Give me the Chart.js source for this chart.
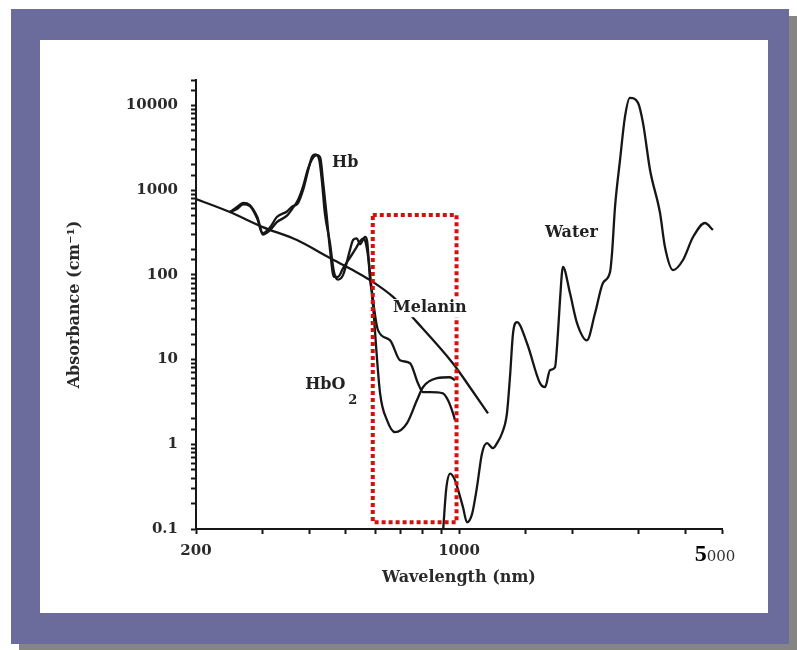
<!DOCTYPE html>
<html>
<head>
<meta charset="utf-8">
<title>Absorption spectra</title>
<script src="https://cdn.jsdelivr.net/npm/chart.js@4/dist/chart.umd.min.js"></script>
<style>
  body { margin: 0; background: #fff; }
  .frame {
    position: absolute; left: 11px; top: 9px; width: 778px; height: 635px;
    background: #6b6b9c; box-shadow: 8px 7px 0 #858585;
  }
  .panel {
    position: absolute; left: 40px; top: 40px; width: 728px; height: 573px;
    background: #fff;
  }
</style>
</head>
<body>
<div class="frame"></div>
<div class="panel"><canvas id="grafico" width="728" height="573"></canvas></div>
<script>
// wavelengths in nm, absorbance in cm-1
const melaninWl  = [200, 246, 301, 371, 454, 522, 580, 668, 773, 963, 1069, 1194];
const melaninAbs = [787, 552, 367, 258, 158, 114, 87, 55, 27.7, 9.06, 4.72, 2.32];

const hbo2Wl  = [246, 257, 267, 278, 291, 301, 315, 328, 349, 360, 373, 385, 397, 407, 415, 425, 432, 440, 454,
                 465, 477, 492, 513, 523, 535, 546, 563, 570, 580, 587, 617, 644, 676, 727, 773, 802, 874, 946, 976];
const hbo2Abs = [552, 633, 706, 668, 482, 312, 367, 482, 560, 640, 700, 1000, 1700, 2500, 2650, 2300, 1300, 537, 238,
                 110, 88, 100, 196, 258, 270, 230, 280, 250, 90, 60, 4.0, 1.92, 1.39, 1.77, 3.31, 4.72, 6.03, 6.19, 5.71];

const hbWl  = [246, 257, 267, 278, 291, 301, 315, 328, 349, 360, 373, 385, 397, 410, 420, 428, 435, 445, 454,
               465, 477, 492, 513, 530, 546, 557, 565, 575, 583, 591, 609, 656, 697, 741, 778, 802, 837, 906, 935, 964, 976];
const hbAbs = [552, 600, 680, 650, 460, 300, 340, 420, 500, 600, 760, 1100, 1800, 2450, 2600, 2400, 1300, 500, 200,
               95, 95, 120, 160, 200, 250, 270, 240, 150, 85, 50, 22.3, 16.9, 9.84, 9.06, 5.26, 4.12, 4.12, 4.0, 3.31, 2.32, 1.92];

const waterWl  = [905, 925, 948, 975, 990, 1025, 1050, 1083, 1116, 1151, 1187, 1231, 1262, 1301, 1341, 1366, 1392, 1426,
                  1516, 1642, 1693, 1745, 1799, 1832, 1855, 1889, 1972, 2059, 2188, 2298, 2413, 2520, 2551, 2598, 2679,
                  2761, 2846, 2991, 3083, 3219, 3422, 3527, 3705, 3938, 4188, 4505, 4731];
const waterAbs = [0.08, 0.3, 0.45, 0.38, 0.31, 0.18, 0.12, 0.15, 0.31, 0.78, 1.03, 0.9, 1.03, 1.35, 2.32, 6.2, 20.5, 27.7,
                  15.6, 5.26, 4.72, 7.5, 8.1, 20.5, 50, 124, 61, 27, 16.9, 35, 80, 108, 181, 633, 2275,
                  7330, 12300, 10740, 6230, 1733, 537, 213, 114, 150, 280, 410, 339];

const xTickLabels = [200, 1000, 5000];
const yTickLabels = [0.1, 1, 10, 100, 1000, 10000];

// curve names, anchored at [wavelength, absorbance]
const notes = [
  { text: 'Hb', at: [460, 2100] },
  { text: 'Melanin', at: [668, 40.5], clear: true },
  { text: 'Water', at: [1693, 312] },
  { text: 'HbO', at: [390, 4.98], sub: '2' }
];
// highlighted window (dotted red box)
const windowWl  = [590, 985];
const windowAbs = [0.12, 510];

const tinta = '#161616';
const serif = "'DejaVu Serif', serif";

function puntos(xs, ys) {
  return xs.map((x, i) => ({ x: x, y: ys[i] }));
}

function curva(label, xs, ys) {
  return {
    label: label,
    data: puntos(xs, ys),
    borderColor: tinta,
    borderWidth: 2.3,
    pointRadius: 0,
    fill: false,
    cubicInterpolationMode: 'monotone'
  };
}

const anotaciones = {
  id: 'anotaciones',
  afterDatasetsDraw(chart) {
    const { ctx, scales: { x, y }, chartArea } = chart;
    ctx.save();

    // dotted window
    const x0 = x.getPixelForValue(windowWl[0]), x1 = x.getPixelForValue(windowWl[1]);
    const y0 = y.getPixelForValue(windowAbs[1]), y1 = y.getPixelForValue(windowAbs[0]);
    ctx.strokeStyle = '#d40f0f';
    ctx.lineWidth = 4;
    ctx.setLineDash([4, 3]);
    ctx.strokeRect(x0, y0, x1 - x0, y1 - y0);
    ctx.setLineDash([]);

    // curve names
    ctx.textBaseline = 'middle';
    ctx.textAlign = 'left';
    notes.forEach(n => {
      const px = x.getPixelForValue(n.at[0]);
      const py = y.getPixelForValue(n.at[1]);
      ctx.font = 'bold 16px ' + serif;
      const w = ctx.measureText(n.text).width;
      if (n.clear) {
        ctx.fillStyle = '#fff';
        ctx.fillRect(px - 3, py - 9, w + 6, 18);
      }
      ctx.fillStyle = '#222';
      ctx.fillText(n.text, px, py);
      if (n.sub) {
        ctx.font = 'bold 13px ' + serif;
        ctx.fillText(n.sub, px + w + 3, py + 15);
      }
    });

    // last wavelength label, with its bigger first digit
    const lx = x.getPixelForValue(5000) - 7;
    const ly = chartArea.bottom + 32;
    ctx.textBaseline = 'alphabetic';
    ctx.font = "bold 24px 'Liberation Serif', serif";
    const w5 = ctx.measureText('5').width;
    ctx.font = '15px ' + serif;
    const w0 = ctx.measureText('000').width;
    const start = lx - (w5 + w0) / 2;
    ctx.fillStyle = '#000';
    ctx.font = "bold 24px 'Liberation Serif', serif";
    ctx.fillText('5', start, ly);
    ctx.fillStyle = '#333';
    ctx.font = '15px ' + serif;
    ctx.fillText('000', start + w5, ly);
    ctx.restore();
  }
};

const ctx = document.getElementById('grafico').getContext('2d');
new Chart(ctx, {
  type: 'line',
  data: {
    datasets: [
      curva('Melanin', melaninWl, melaninAbs),
      curva('HbO2', hbo2Wl, hbo2Abs),
      curva('Hb', hbWl, hbAbs),
      curva('Water', waterWl, waterAbs)
    ]
  },
  options: {
    responsive: false,
    animation: false,
    devicePixelRatio: 1,
    layout: { padding: { top: 40, right: 46, left: 0, bottom: 0 } },
    plugins: {
      legend: { display: false },
      tooltip: { enabled: false }
    },
    scales: {
      x: {
        type: 'logarithmic',
        min: 200,
        max: 5000,
        afterFit: (s) => { s.height = 84; },
        border: { display: true, color: tinta, width: 2 },
        grid: { drawOnChartArea: false, drawTicks: true, tickLength: 5, color: tinta, tickWidth: 2 },
        ticks: {
          autoSkip: false,
          maxRotation: 0,
          padding: 8,
          color: '#2a2a2a',
          font: { family: serif, size: 15, weight: 'bold' },
          callback: (v) => (xTickLabels.includes(v) && v !== 5000 ? String(v) : '')
        },
        title: {
          display: true,
          text: 'Wavelength (nm)',
          color: '#2a2a2a',
          font: { family: serif, size: 16, weight: 'bold' },
          padding: { top: 0, bottom: 26 }
        }
      },
      y: {
        type: 'logarithmic',
        min: 0.1,
        max: 20000,
        afterFit: (s) => { s.width = 156; },
        border: { display: true, color: tinta, width: 2 },
        grid: { drawOnChartArea: false, drawTicks: true, tickLength: 5, color: tinta, tickWidth: 2 },
        ticks: {
          autoSkip: false,
          padding: 13,
          color: '#2a2a2a',
          font: { family: serif, size: 15, weight: 'bold' },
          callback: (v) => {
            const hit = yTickLabels.find(t => Math.abs(t - v) / t < 1e-6);
            return hit !== undefined ? String(hit) : '';
          }
        },
        title: {
          display: true,
          text: 'Absorbance (cm\u207B\u00B9)',
          color: '#2a2a2a',
          font: { family: serif, size: 16, weight: 'bold' },
          padding: { top: 25, bottom: 0 }
        }
      }
    }
  },
  plugins: [anotaciones]
});
</script>
</body>
</html>
